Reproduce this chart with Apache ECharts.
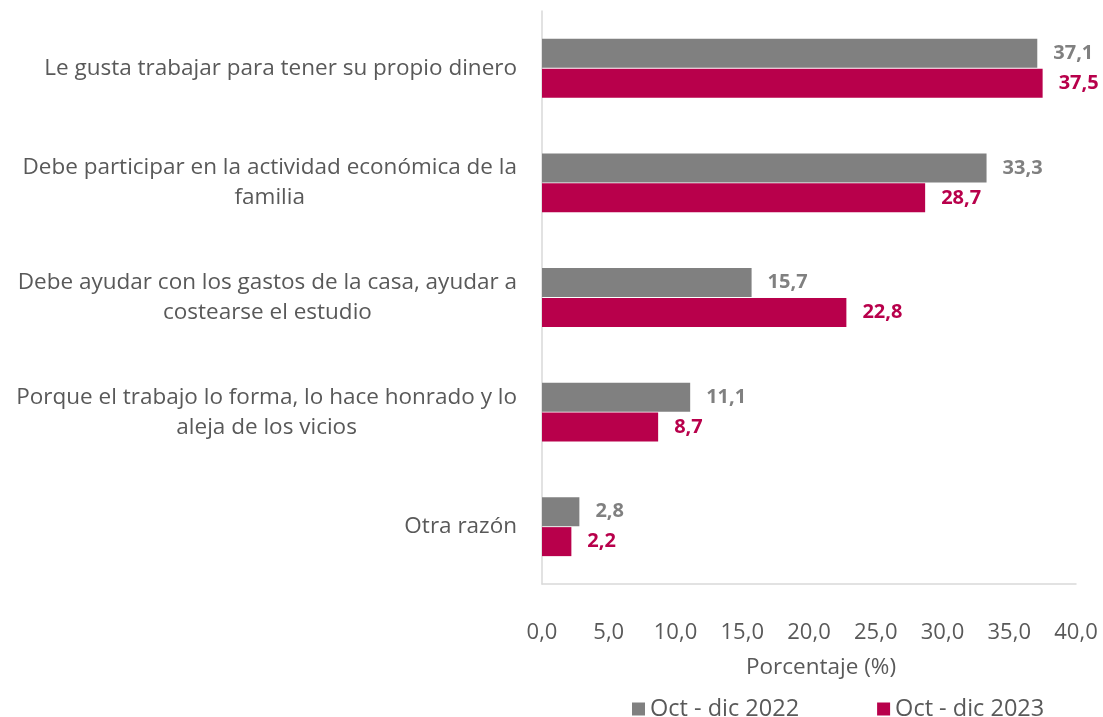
<!DOCTYPE html>
<html>
<head>
<meta charset="utf-8">
<script src="https://cdn.jsdelivr.net/npm/echarts@6/dist/echarts.min.js"></script>
<style>html,body{margin:0;padding:0;background:#fff;}#c{width:1103px;height:717px;}</style>
</head>
<body>
<div id="c"></div>
<script>
const categories = [
  "Le gusta trabajar para tener su propio dinero",
  "Debe participar en la actividad económica de la\nfamilia",
  "Debe ayudar con los gastos de la casa, ayudar a\ncostearse el estudio",
  "Porque el trabajo lo forma, lo hace honrado y lo\naleja de los vicios",
  "Otra razón"
];
const seriesNames = ["Oct - dic 2022", "Oct - dic 2023"];
const values2022 = [37.1, 33.3, 15.7, 11.1, 2.8];
const values2023 = [37.5, 28.7, 22.8, 8.7, 2.2];
const xAxisName = "Porcentaje (%)";

const FONT = "'Open Sans', 'Noto Sans', sans-serif";
const TXT = '#595959';
const GRAY = '#808080';
const RED = '#B8004B';
const fmt = v => Number(v).toFixed(1).replace('.', ',');

const chart = echarts.init(document.getElementById('c'));
chart.setOption({
  animation: false,
  textStyle: { fontFamily: FONT },
  grid: { left: 542, right: 27, top: 11, bottom: 133 },
  legend: {
    data: seriesNames,
    left: 627, top: 692,
    icon: 'rect', itemWidth: 13, itemHeight: 13, itemGap: 78,
    textStyle: { fontFamily: FONT, fontSize: 23.5, color: TXT }
  },
  xAxis: {
    type: 'value', min: 0, max: 40, interval: 5,
    name: xAxisName, nameLocation: 'middle', nameGap: 72,
    nameTextStyle: { fontFamily: FONT, fontSize: 22.5, color: TXT, padding: [0, 0, 0, 24] },
    axisLine: { show: true, lineStyle: { color: '#D9D9D9', width: 1.5 } },
    axisTick: { show: false },
    splitLine: { show: false },
    axisLabel: { formatter: fmt, fontFamily: FONT, fontSize: 22, color: TXT, margin: 38 }
  },
  yAxis: {
    type: 'category', data: categories, inverse: true,
    axisLine: { show: true, lineStyle: { color: '#D9D9D9', width: 1.5 } },
    axisTick: { show: false },
    axisLabel: {
      margin: 25, align: 'right', fontFamily: FONT, fontSize: 22.5, color: TXT, lineHeight: 30,
      formatter: v => v.split('\n').map(l => '{c|' + l + '}').join('\n'),
      rich: { c: { align: 'center', fontFamily: FONT, fontSize: 22.5, color: TXT, lineHeight: 30 } }
    }
  },
  series: [
    {
      name: seriesNames[0], type: 'bar', data: values2022,
      barWidth: 29, barGap: '3%',
      itemStyle: { color: GRAY },
      label: { show: true, position: 'right', distance: 16, formatter: p => fmt(p.value),
        fontFamily: FONT, fontSize: 20, fontWeight: 'bold', color: GRAY }
    },
    {
      name: seriesNames[1], type: 'bar', data: values2023,
      barWidth: 29, barGap: '3%',
      itemStyle: { color: RED },
      label: { show: true, position: 'right', distance: 16, formatter: p => fmt(p.value),
        fontFamily: FONT, fontSize: 20, fontWeight: 'bold', color: RED }
    }
  ]
});
</script>
</body>
</html>
